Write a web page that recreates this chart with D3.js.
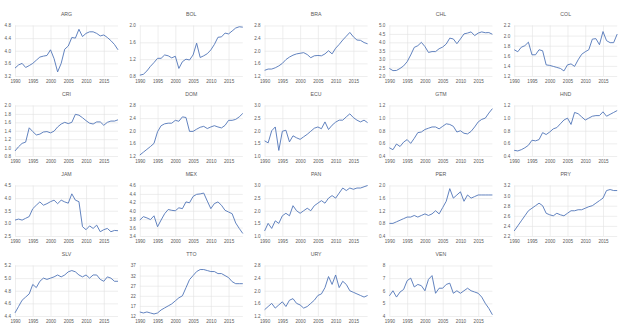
<!DOCTYPE html>
<html>
<head>
<meta charset="utf-8">
<script src="https://cdn.jsdelivr.net/npm/d3@7"></script>
<style>
  body { margin: 0; background: #fff; }
  text { font-family: "Liberation Sans", Arial, sans-serif; fill: #595959; }
</style>
</head>
<body>
<svg id="chart" width="624" height="326"></svg>
<script>
// years on the x axis
var years = d3.range(1990, 2020);
var xTicks = [1990, 1995, 2000, 2005, 2010, 2015];

var countries = ["ARG", "BOL", "BRA", "CHL", "COL",
                 "CRI", "DOM", "ECU", "GTM", "HND",
                 "JAM", "MEX", "PAN", "PER", "PRY",
                 "SLV", "TTO", "URY", "VEN"];

// y axis per country (same order as countries)
var yMin  = [3.2, 0.8, 1.2, 2.0, 1.2, 0.8, 1.2, 1.0, 0.4, 0.4, 2.5, 3.4, 1.0, 0.4, 2.2, 4.4, 12, 1.2, 4];
var yMax  = [4.8, 2.0, 2.8, 5.0, 2.2, 2.0, 2.8, 3.0, 1.2, 1.2, 4.5, 4.6, 3.0, 2.0, 3.2, 5.2, 37, 2.8, 8];
var yStep = [0.4, 0.4, 0.4, 0.5, 0.2, 0.2, 0.4, 0.5, 0.2, 0.2, 0.5, 0.2, 0.5, 0.4, 0.2, 0.2, 5, 0.4, 1];

// series values 1990-2019
var ARG = [3.45, 3.55, 3.6, 3.47, 3.53, 3.6, 3.7, 3.8, 3.83, 3.85, 4.03, 3.75, 3.33, 3.6, 4.05, 4.15, 4.42, 4.4, 4.68, 4.45, 4.55, 4.6, 4.6, 4.55, 4.47, 4.5, 4.42, 4.32, 4.2, 4.03];
var BOL = [0.82, 0.84, 0.92, 1.03, 1.12, 1.22, 1.22, 1.3, 1.28, 1.23, 1.27, 0.98, 1.14, 1.2, 1.18, 1.3, 1.58, 1.24, 1.28, 1.33, 1.42, 1.55, 1.72, 1.73, 1.82, 1.8, 1.87, 1.94, 1.97, 1.96];
var BRA = [1.38, 1.42, 1.42, 1.46, 1.52, 1.6, 1.72, 1.8, 1.86, 1.9, 1.92, 1.94, 1.88, 1.78, 1.84, 1.85, 1.84, 1.9, 2.0, 1.9, 2.08, 2.2, 2.34, 2.46, 2.58, 2.44, 2.34, 2.33, 2.26, 2.22];
var CHL = [2.45, 2.32, 2.33, 2.45, 2.6, 2.85, 3.25, 3.7, 3.8, 4.0, 3.75, 3.4, 3.45, 3.45, 3.62, 3.72, 3.9, 4.25, 4.2, 3.92, 4.2, 4.5, 4.55, 4.62, 4.4, 4.55, 4.62, 4.57, 4.58, 4.48];
var COL = [1.72, 1.68, 1.77, 1.8, 1.87, 1.62, 1.62, 1.72, 1.7, 1.42, 1.41, 1.39, 1.37, 1.35, 1.3, 1.42, 1.44, 1.39, 1.52, 1.63, 1.68, 1.72, 1.93, 1.94, 1.82, 2.08, 1.9, 1.86, 1.86, 2.03];
var CRI = [0.92, 1.02, 1.1, 1.13, 1.47, 1.38, 1.3, 1.32, 1.37, 1.38, 1.35, 1.39, 1.49, 1.56, 1.6, 1.57, 1.6, 1.79, 1.77, 1.71, 1.64, 1.58, 1.56, 1.61, 1.61, 1.53, 1.6, 1.63, 1.63, 1.66];
var DOM = [1.23, 1.32, 1.41, 1.5, 1.6, 1.97, 2.16, 2.22, 2.24, 2.24, 2.33, 2.3, 2.44, 2.42, 1.98, 1.98, 2.05, 2.11, 2.14, 2.07, 2.12, 2.16, 2.12, 2.09, 2.17, 2.33, 2.33, 2.36, 2.44, 2.55];
var ECU = [1.6, 1.52, 2.0, 2.15, 1.22, 1.98, 2.02, 1.56, 1.8, 1.72, 1.66, 1.76, 1.86, 1.98, 2.1, 2.15, 2.08, 2.35, 2.05, 2.22, 2.34, 2.42, 2.42, 2.55, 2.67, 2.52, 2.42, 2.35, 2.42, 2.32];
var GTM = [0.53, 0.5, 0.59, 0.55, 0.62, 0.66, 0.6, 0.68, 0.77, 0.78, 0.82, 0.84, 0.86, 0.86, 0.83, 0.87, 0.91, 0.9, 0.87, 0.78, 0.8, 0.76, 0.75, 0.79, 0.86, 0.94, 0.98, 1.0, 1.08, 1.15];
var HND = [0.49, 0.48, 0.5, 0.53, 0.57, 0.65, 0.64, 0.66, 0.77, 0.74, 0.78, 0.83, 0.85, 0.91, 0.97, 1.0, 0.9, 1.09, 1.07, 1.02, 0.97, 1.0, 1.03, 1.04, 1.04, 1.1, 1.03, 1.06, 1.09, 1.12];
var JAM = [3.13, 3.17, 3.13, 3.2, 3.27, 3.58, 3.72, 3.85, 3.72, 3.78, 3.86, 3.92, 3.78, 3.92, 3.85, 3.8, 4.17, 3.92, 3.86, 2.87, 2.75, 2.9, 2.8, 2.93, 2.67, 2.75, 2.8, 2.67, 2.72, 2.71];
var MEX = [3.78, 3.86, 3.83, 3.79, 3.88, 3.62, 3.78, 3.93, 4.03, 4.01, 4.0, 4.07, 4.05, 4.21, 4.19, 4.34, 4.39, 4.4, 4.42, 4.23, 4.05, 4.17, 4.21, 4.13, 4.01, 3.97, 3.93, 3.71, 3.58, 3.46];
var PAN = [1.2, 1.5, 1.3, 1.6, 1.5, 1.8, 1.9, 1.8, 2.2, 2.0, 1.9, 2.0, 2.1, 2.0, 2.2, 2.3, 2.4, 2.3, 2.5, 2.6, 2.5, 2.7, 2.9, 2.8, 2.9, 2.85, 2.9, 2.9, 2.95, 3.0];
var PER = [0.8, 0.8, 0.85, 0.9, 0.95, 1.0, 1.0, 1.05, 1.0, 1.05, 1.1, 1.05, 1.1, 1.2, 1.1, 1.3, 1.5, 1.9, 1.6, 1.7, 1.8, 1.5, 1.7, 1.6, 1.65, 1.7, 1.7, 1.7, 1.7, 1.7];
var PRY = [2.3, 2.4, 2.5, 2.6, 2.7, 2.75, 2.8, 2.85, 2.8, 2.65, 2.62, 2.6, 2.65, 2.62, 2.6, 2.65, 2.7, 2.7, 2.72, 2.72, 2.75, 2.78, 2.8, 2.85, 2.9, 2.95, 3.1, 3.12, 3.1, 3.1];
var SLV = [4.45, 4.55, 4.65, 4.7, 4.75, 4.9, 4.85, 4.95, 5.0, 4.98, 5.0, 5.02, 5.05, 5.02, 5.05, 5.1, 5.12, 5.1, 5.05, 5.02, 5.05, 5.0, 5.05, 5.05, 4.98, 4.95, 5.02, 5.0, 4.95, 4.95];
var TTO = [14, 13.5, 14, 13.5, 13, 13.5, 15, 16, 17, 18, 19.5, 21, 22, 26, 30, 32, 34, 35, 35, 34.5, 34, 34, 33, 33, 32, 31, 29, 28, 28, 28];
var URY = [1.4, 1.5, 1.6, 1.45, 1.55, 1.65, 1.5, 1.7, 1.75, 1.6, 1.55, 1.45, 1.5, 1.6, 1.7, 1.85, 1.9, 2.1, 2.45, 2.2, 2.5, 2.1, 2.3, 2.2, 2.0, 1.95, 1.9, 1.85, 1.8, 1.85];
var VEN = [5.6, 6.0, 5.5, 5.9, 6.1, 6.8, 7.0, 6.3, 6.5, 6.4, 6.0, 6.9, 7.2, 5.8, 6.2, 6.2, 6.5, 6.6, 5.8, 6.0, 5.8, 6.0, 6.2, 6.0, 5.9, 5.8, 5.5, 5.0, 4.6, 4.1];

var series = { ARG: ARG, BOL: BOL, BRA: BRA, CHL: CHL, COL: COL, CRI: CRI, DOM: DOM, ECU: ECU,
               GTM: GTM, HND: HND, JAM: JAM, MEX: MEX, PAN: PAN, PER: PER, PRY: PRY, SLV: SLV,
               TTO: TTO, URY: URY, VEN: VEN };

var svg = d3.select("#chart");
var colW = 124.8, rowH = 80;
var plotLeft = 15, plotRight = 118, plotTop = 25.5, plotBottom = 76;

countries.forEach(function (c, i) {
    var col = i % 5, row = Math.floor(i / 5);
    var g = svg.append("g")
        .attr("transform", "translate(" + (col * colW) + "," + (row * rowH) + ")");

    var x = d3.scaleLinear().domain([1990, 2019]).range([plotLeft, plotRight]);
    var y = d3.scaleLinear().domain([yMin[i], yMax[i]]).range([plotBottom, plotTop]);
    var ticks = d3.range(yMin[i], yMax[i] + yStep[i] / 2, yStep[i]);
    var fmt = yStep[i] >= 1 ? d3.format("d") : d3.format(".1f");

    // horizontal gridlines
    g.append("g")
        .attr("transform", "translate(" + plotLeft + ",0)")
        .call(d3.axisLeft(y).tickValues(ticks).tickSize(-(plotRight - plotLeft)).tickFormat(""))
        .call(function (a) { a.select(".domain").remove(); })
        .selectAll("line").attr("stroke", "#e3e3e3").attr("stroke-width", 0.6);

    // vertical gridlines
    g.append("g")
        .attr("transform", "translate(0," + plotBottom + ")")
        .call(d3.axisBottom(x).tickValues(xTicks).tickSize(-(plotBottom - plotTop)).tickFormat(""))
        .call(function (a) { a.select(".domain").remove(); })
        .selectAll("line").attr("stroke", "#e3e3e3").attr("stroke-width", 0.6);

    // y tick labels
    g.append("g")
        .attr("transform", "translate(" + (plotLeft - 1) + ",0)")
        .call(d3.axisLeft(y).tickValues(ticks).tickSize(0).tickFormat(fmt))
        .call(function (a) { a.select(".domain").remove(); })
        .selectAll("text")
        .style("font-size", "4.6px").attr("fill", "#595959");

    // x tick labels
    g.append("g")
        .attr("transform", "translate(0," + (plotBottom + 1) + ")")
        .call(d3.axisBottom(x).tickValues(xTicks).tickSize(0).tickFormat(d3.format("d")))
        .call(function (a) { a.select(".domain").remove(); })
        .selectAll("text")
        .style("font-size", "4.6px").attr("fill", "#595959");

    // line
    g.append("path")
        .datum(series[c])
        .attr("fill", "none")
        .attr("stroke", "#5075b8")
        .attr("stroke-width", 0.9)
        .attr("stroke-linejoin", "round")
        .attr("d", d3.line().x(function (d, j) { return x(years[j]); }).y(function (d) { return y(d); }));

    // title
    g.append("text")
        .attr("x", (plotLeft + plotRight) / 2)
        .attr("y", 16)
        .attr("text-anchor", "middle")
        .style("font-size", "5.2px")
        .text(c);
});
</script>
</body>
</html>
